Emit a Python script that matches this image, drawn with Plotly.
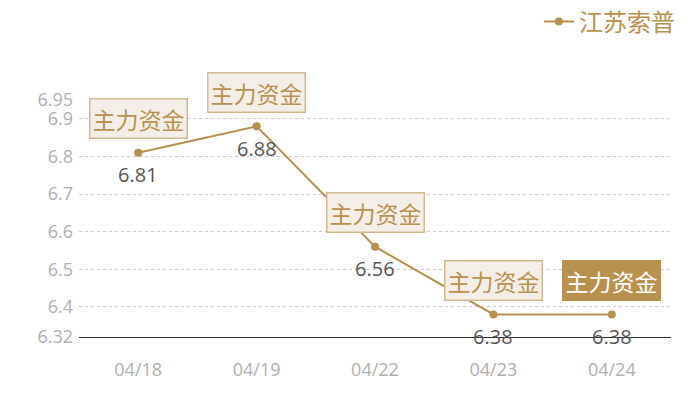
import plotly.graph_objects as go

dates = ["04/18", "04/19", "04/22", "04/23", "04/24"]
prices = [6.81, 6.88, 6.56, 6.38, 6.38]
tags = ["主力资金", "主力资金", "主力资金", "主力资金", "主力资金"]
ytick_vals = [6.32, 6.4, 6.5, 6.6, 6.7, 6.8, 6.9, 6.95]
ytick_text = ["6.32", "6.4", "6.5", "6.6", "6.7", "6.8", "6.9", "6.95"]

gold = "#b8914f"
cjk = "Noto Sans CJK SC"

fig = go.Figure()
fig.add_trace(go.Scatter(
    x=dates, y=prices, name="江苏索普",
    mode="lines+markers",
    line=dict(color=gold, width=2),
    marker=dict(color=gold, size=8),
))

# value labels under points, tag boxes above, last tag highlighted
for i, (d, v, t) in enumerate(zip(dates, prices, tags)):
    last = i == len(dates) - 1
    fig.add_annotation(
        x=d, y=v, text=f"{v:.2f}", showarrow=False, yshift=-22,
        font=dict(family="Open Sans", size=20, color="#555555"),
    )
    fig.add_annotation(
        x=d, y=v, text=t, showarrow=False, yshift=34,
        font=dict(family=cjk, size=23, color="white" if last else gold),
        bgcolor=gold if last else "#f3efe8",
        bordercolor="#d3b98f" if not last else gold,
        borderwidth=1.5, borderpad=2,
    )

fig.update_layout(
    width=700, height=400,
    margin=dict(l=71, r=37, t=92, b=71, autoexpand=False),
    plot_bgcolor="white", paper_bgcolor="white",
    showlegend=True,
    legend=dict(
        orientation="h", x=1.015, xanchor="right", y=1.33, yanchor="middle",
        font=dict(family=cjk, size=24, color=gold),
        itemwidth=30,
    ),
    xaxis=dict(
        type="category", range=[-0.5, 4.5], showgrid=False,
        showline=True, linecolor="#333333", linewidth=1,
        ticks="", tickfont=dict(family="Open Sans", size=18, color="#b0b0b0"),
        ticklabelstandoff=16,
    ),
    yaxis=dict(
        range=[6.32, 6.95], tickvals=ytick_vals, ticktext=ytick_text,
        showgrid=True, gridcolor="#cccccc", griddash="dot", gridwidth=1,
        zeroline=False, showline=False, ticklabelstandoff=5,
        tickfont=dict(family="Open Sans", size=18, color="#b0b0b0"),
    ),
)

fig.write_html("out.html")
